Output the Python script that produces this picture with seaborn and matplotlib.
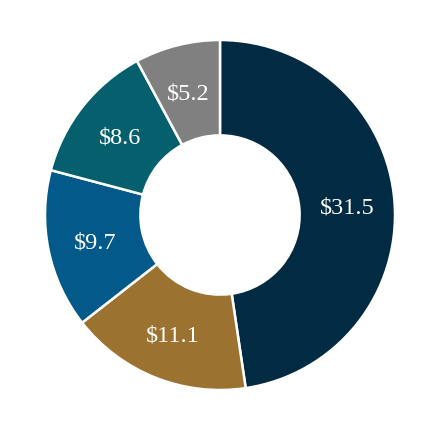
import matplotlib
matplotlib.use("Agg")
import matplotlib.pyplot as plt
import seaborn as sns
import numpy as np

labels = ["$31.5", "$11.1", "$9.7", "$8.6", "$5.2"]
values = [31.5, 11.1, 9.7, 8.6, 5.2]
colors = ["#012A43", "#9B7230", "#035A8A", "#065F6D", "#808080"]

sns.set_theme(style="white")
plt.rcParams["font.family"] = ["Liberation Serif", "DejaVu Serif"]

fig = plt.figure(figsize=(4.4, 4.3), dpi=100)
ax = fig.add_axes([0, 0, 1, 1])

wedges, texts = ax.pie(
    values,
    colors=sns.color_palette(colors),
    startangle=90,
    counterclock=False,
    radius=1.0,
    wedgeprops=dict(width=0.545, edgecolor="white", linewidth=1.8),
)

# labels in the middle of the ring
total = sum(values)
start = 90.0
for v, lab in zip(values, labels):
    ang = np.deg2rad(start - v / total * 360 / 2)
    r = 0.73
    ax.text(r * np.cos(ang), r * np.sin(ang), lab, color="white",
            ha="center", va="center_baseline", fontsize=17.5)
    start -= v / total * 360

ax.set_xlim(-220 / 175, 220 / 175)
ax.set_ylim(-215 / 175, 215 / 175)
ax.set_aspect("equal")
ax.axis("off")

fig.savefig("out.png", dpi=100, facecolor="white")
